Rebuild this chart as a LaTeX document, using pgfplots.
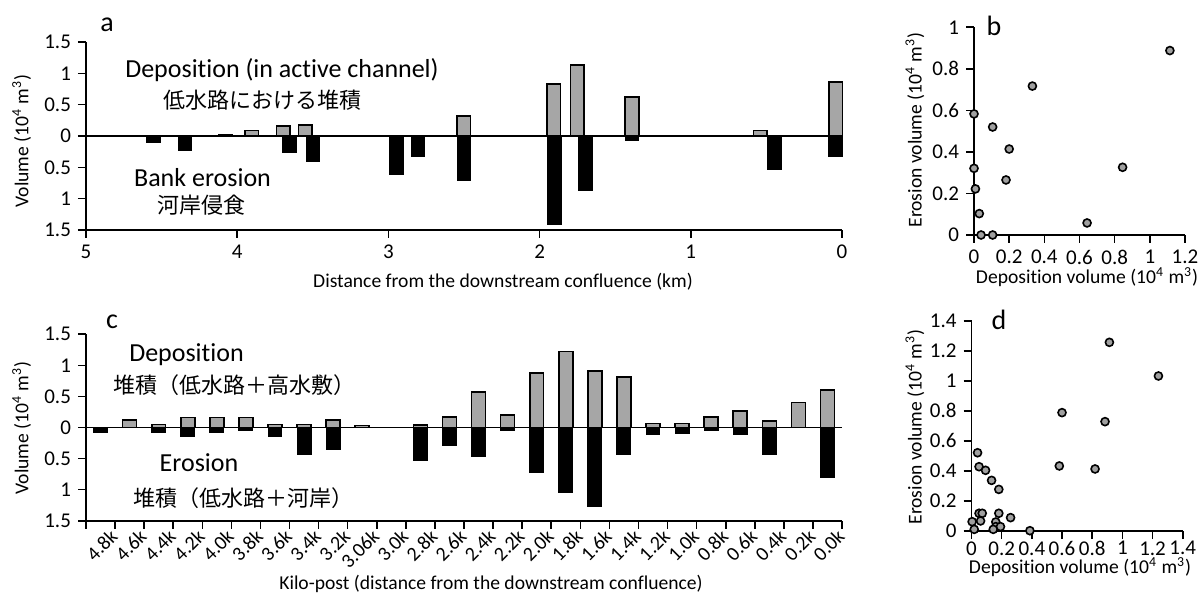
\documentclass[border=0pt]{standalone}
\usepackage{pgfplots}
\pgfplotsset{compat=1.18}
\usepackage{fontspec}
\setmainfont{Carlito}[Ligatures={NoCommon}]
\newfontfamily\cjk{Noto Sans CJK JP}
\definecolor{bargray}{RGB}{166,166,166}
\definecolor{mkgray}{RGB}{160,160,160}
\newcommand{\fs}[1]{\fontsize{#1}{#1}\selectfont}
\pgfplotsset{
  panel/.style={
    scale only axis, anchor=south west,
    axis lines=left, axis line style={-, line width=0.9pt},
    tick style={black, line width=0.8pt},
    tick align=outside, major tick length=4pt,
    /pgf/number format/assume math mode=true,
    ticklabel style={font=\fs{10.5}},
    clip=false,
  },
}
\begin{document}
\begin{tikzpicture}
\path[use as bounding box] (0,0) rectangle (601pt,297pt);

% ---------------- panel a ----------------
\begin{axis}[panel, at={(43pt,182pt)}, width=378pt, height=94pt,
  x dir=reverse, xmin=0, xmax=5, xtick={0,1,2,3,4,5},
  ymin=-1.5, ymax=1.5, ytick={-1.5,-1,-0.5,0,0.5,1,1.5},
  yticklabels={1.5,1,0.5,0,0.5,1,1.5}]
\addplot[ybar, bar width=0.089, bar shift=0pt, fill=bargray, draw=black, line width=0.8pt]
 coordinates {(4.08,0.012) (3.904,0.09) (3.695,0.155) (3.55,0.18) (2.502,0.32) (1.905,0.825) (1.75,1.13) (1.389,0.62) (0.542,0.087) (0.042,0.86)};
\addplot[ybar, bar width=0.089, bar shift=0pt, fill=black, draw=black, line width=0.5pt]
 coordinates {(4.555,-0.1) (4.345,-0.23) (3.654,-0.27) (3.50,-0.41) (2.945,-0.61) (2.806,-0.335) (2.50,-0.705) (1.90,-1.42) (1.695,-0.876) (1.389,-0.07) (0.445,-0.54) (0.042,-0.335)};
\addplot[black, line width=0.9pt] coordinates {(5,0) (0,0)};
\end{axis}

% ---------------- panel c ----------------
\begin{axis}[panel, at={(43pt,36.65pt)}, width=378pt, height=93.2pt,
  xmin=-0.5, xmax=25.5, xtick={0,...,25},
  xticklabels={4.8k,4.6k,4.4k,4.2k,4.0k,3.8k,3.6k,3.4k,3.2k,3.06k,3.0k,2.8k,2.6k,2.4k,2.2k,2.0k,1.8k,1.6k,1.4k,1.2k,1.0k,0.8k,0.6k,0.4k,0.2k,0.0k},
  x tick style={draw=none},
  minor xtick={-0.5,0.5,...,25.5},
  minor x tick style={draw=black, line width=0.8pt}, minor tick length=4pt,
  xticklabel style={rotate=45, anchor=north east, inner sep=0.5pt, xshift=4pt, yshift=-2pt, font=\fs{10}},
  ymin=-1.5, ymax=1.5, ytick={-1.5,-1,-0.5,0,0.5,1,1.5},
  yticklabels={1.5,1,0.5,0,0.5,1,1.5}]
\addplot[ybar, bar width=0.48, bar shift=0pt, fill=bargray, draw=black, line width=0.8pt]
 coordinates {(1,0.12) (2,0.05) (3,0.16) (4,0.16) (5,0.16) (6,0.05) (7,0.05) (8,0.12) (9,0.03) (11,0.04) (12,0.17) (13,0.575) (14,0.2) (15,0.875) (16,1.22) (17,0.91) (18,0.81) (19,0.065) (20,0.065) (21,0.17) (22,0.27) (23,0.1) (24,0.4) (25,0.605)};
\addplot[ybar, bar width=0.48, bar shift=0pt, fill=black, draw=black, line width=0.5pt]
 coordinates {(0,-0.08) (2,-0.08) (3,-0.145) (4,-0.08) (5,-0.045) (6,-0.15) (7,-0.43) (8,-0.35) (11,-0.53) (12,-0.29) (13,-0.46) (14,-0.055) (15,-0.726) (16,-1.04) (17,-1.27) (18,-0.43) (19,-0.12) (20,-0.09) (21,-0.055) (22,-0.12) (23,-0.43) (25,-0.81)};
\addplot[black, line width=0.9pt] coordinates {(-0.5,0) (25.5,0)};
\end{axis}

% ---------------- panel b ----------------
\begin{axis}[panel, at={(487pt,179.5pt)}, width=105.5pt, height=103.85pt,
  xmin=0, xmax=1.2, ymin=0, ymax=1,
  xtick={0,0.2,...,1.2}, ytick={0,0.2,...,1},
  xticklabels={0,0.2,0.4,0.6,0.8,1,1.2}, yticklabels={0,0.2,0.4,0.6,0.8,1}]
\addplot[only marks, mark=*, mark size=2pt, mark options={fill=mkgray, draw=black, line width=0.8pt}]
 coordinates {(1.114,0.888) (0.332,0.717) (0.0,0.583) (0.106,0.52) (0.2,0.414) (0.0,0.321) (0.182,0.265) (0.008,0.222) (0.030,0.103) (0.04,0.0) (0.106,0.0) (0.643,0.058) (0.845,0.326)};
\end{axis}

% ---------------- panel d ----------------
\begin{axis}[panel, at={(485.75pt,31.5pt)}, width=105.6pt, height=105.15pt,
  xmin=0, xmax=1.4, ymin=0, ymax=1.4,
  xtick={0,0.2,...,1.4}, ytick={0,0.2,...,1.4},
  xticklabels={0,0.2,0.4,0.6,0.8,1,1.2,1.4}, yticklabels={0,0.2,0.4,0.6,0.8,1,1.2,1.4},
  xticklabel style={inner sep=1pt}]
\addplot[only marks, mark=*, mark size=2pt, mark options={fill=mkgray, draw=black, line width=0.8pt}]
 coordinates {(0.914,1.256) (1.239,1.032) (0.6,0.788) (0.885,0.728) (0.582,0.433) (0.819,0.413) (0.04,0.521) (0.05,0.428) (0.093,0.404) (0.133,0.337) (0.181,0.277) (0.05,0.118) (0.071,0.118) (0.181,0.118) (0.004,0.062) (0.06,0.067) (0.018,0.011) (0.161,0.06) (0.161,0.029) (0.144,0.011) (0.192,0.029) (0.259,0.089) (0.387,0.002)};
\end{axis}

% ---------------- texts ----------------
\node[font=\fs{14}] at (53.5pt,284.5pt) {a};
\node[font=\fs{14}] at (56pt,136pt) {c};
\node[font=\fs{14}] at (497pt,284pt) {b};
\node[font=\fs{14}] at (499.5pt,137pt) {d};
\node[font=\fs{13}] at (141pt,262pt) {Deposition (in active channel)};
\node[font=\fs{11}\cjk] at (131pt,247pt) {低水路における堆積};
\node[font=\fs{13}] at (101.25pt,208pt) {Bank erosion};
\node[font=\fs{11}\cjk] at (100.5pt,194.5pt) {河岸侵食};
\node[font=\fs{13}] at (93.25pt,119.5pt) {Deposition};
\node[font=\fs{11}\cjk] at (117pt,104.5pt) {堆積（低水路＋高水敷）};
\node[font=\fs{13}] at (99.5pt,65.5pt) {Erosion};
\node[font=\fs{11}\cjk] at (121.5pt,48pt) {堆積（低水路＋河岸）};
\node[font=\fs{9.8}] at (251.5pt,156pt) {Distance from the downstream confluence (km)};
\node[font=\fs{9.8}] at (245.5pt,5pt) {Kilo-post (distance from the downstream confluence)};
\node[font=\fs{9.8}, rotate=90] at (10.85pt,226.5pt) {Volume (10\textsuperscript{4} m\textsuperscript{3})};
\node[font=\fs{9.8}, rotate=90] at (10.85pt,83pt) {Volume (10\textsuperscript{4} m\textsuperscript{3})};
\node[font=\fs{9.8}, rotate=90] at (457.5pt,232pt) {Erosion volume (10\textsuperscript{4} m\textsuperscript{3})};
\node[font=\fs{9.8}] at (543.5pt,158.5pt) {Deposition volume (10\textsuperscript{4} m\textsuperscript{3})};
\node[font=\fs{9.8}, rotate=90] at (457.5pt,83.5pt) {Erosion volume (10\textsuperscript{4} m\textsuperscript{3})};
\node[font=\fs{9.8}] at (540pt,13.5pt) {Deposition volume (10\textsuperscript{4} m\textsuperscript{3})};
\end{tikzpicture}
\end{document}
